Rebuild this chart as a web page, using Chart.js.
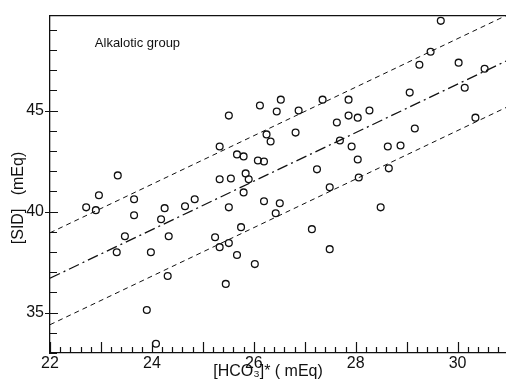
<!DOCTYPE html>
<html>
<head>
<meta charset="utf-8">
<script src="https://cdn.jsdelivr.net/npm/chart.js@4.4.1/dist/chart.umd.min.js"></script>
<style>
  html, body { margin: 0; padding: 0; background: #fff; overflow: hidden; }
  #wrap { width: 506px; height: 386px; }
  canvas { display: block; }
</style>
</head>
<body>
<div id="wrap"><canvas id="sidChart" width="506" height="386"></canvas></div>
<script>
const hco3 = [22.71, 22.96, 22.90, 23.33, 23.65, 23.65, 23.47, 23.31, 23.98, 24.18,
  24.25, 24.33, 24.31, 23.90, 24.08, 24.65, 24.84, 25.24, 25.33, 25.51,
  25.51, 25.67, 25.75, 25.45, 26.02, 25.80, 26.20, 26.51, 26.43, 27.14,
  27.49, 28.49, 25.51, 26.12, 26.53, 26.45, 26.88, 27.35, 27.86, 27.86,
  28.04, 27.63, 26.82, 26.25, 26.33, 25.33, 25.67, 25.80, 26.08, 26.20,
  27.69, 27.92, 28.04, 27.24, 25.33, 25.55, 25.84, 25.90, 27.49, 28.06,
  29.67, 29.47, 29.25, 30.02, 30.53, 30.14, 29.06, 28.27, 30.35, 29.16,
  28.63, 28.88, 28.65];
const sid = [40.21, 40.81, 40.07, 41.79, 40.61, 39.82, 38.78, 37.99, 37.99, 39.62,
  40.17, 38.78, 36.81, 35.13, 33.46, 40.26, 40.61, 38.73, 38.24, 40.21,
  38.44, 37.85, 39.23, 36.42, 37.40, 40.95, 40.51, 40.41, 39.92, 39.13,
  38.14, 40.21, 44.75, 45.25, 45.54, 44.95, 45.00, 45.54, 45.54, 44.75,
  44.65, 44.41, 43.91, 43.82, 43.47, 43.22, 42.83, 42.73, 42.53, 42.48,
  43.52, 43.22, 42.58, 42.09, 41.60, 41.64, 41.89, 41.60, 41.20, 41.69,
  49.44, 47.91, 47.27, 47.37, 47.07, 46.13, 45.89, 45.00, 44.65, 44.11,
  43.22, 43.27, 42.14];

// regression line and its two limits (end points at x = 22 and right edge)
const lineX = [22, 30.95];
const fitLine = [36.7, 47.45];
const upperLine = [38.95, 49.7];
const lowerLine = [34.4, 45.15];

const xTicks = [22, 24, 26, 28, 30];
const yTicks = [35, 40, 45];

const ink = '#111';
const font = "'Liberation Sans', Arial, sans-serif";

function pts(xs, ys) {
  return xs.map((x, i) => ({ x: x, y: ys[i] }));
}

// inward ticks, top frame line, axis titles and the group label
const decorations = {
  id: 'decorations',
  afterDraw(chart) {
    const c = chart.ctx;
    const xs = chart.scales.x, ys = chart.scales.y;
    const area = chart.chartArea;
    c.save();
    c.strokeStyle = ink;
    c.lineWidth = 1.3;
    c.beginPath();
    c.moveTo(area.left, area.top);
    c.lineTo(area.right, area.top);
    c.stroke();

    c.lineWidth = 1.2;
    c.beginPath();
    for (let k = 0; k * 0.2 + 22 <= xs.max + 1e-6; k++) {
      const v = 22 + k * 0.2;
      const px = Math.round(xs.getPixelForValue(v)) + 0.5;
      const len = (k % 5 === 0) ? 11 : 6;
      c.moveTo(px, area.bottom);
      c.lineTo(px, area.bottom - len);
    }
    for (let v = 33; v <= 49; v++) {
      const py = Math.round(ys.getPixelForValue(v)) + 0.5;
      if (v % 5 === 0) {
        c.moveTo(area.left - 5, py);
        c.lineTo(area.left + 8, py);
      } else {
        c.moveTo(area.left, py);
        c.lineTo(area.left + 7, py);
      }
    }
    c.stroke();

    c.fillStyle = ink;
    c.font = '13px ' + font;
    c.textAlign = 'left';
    c.textBaseline = 'middle';
    c.fillText('Alkalotic group', xs.getPixelForValue(22.88), ys.getPixelForValue(48.3));

    c.font = '16px ' + font;
    c.textAlign = 'center';
    c.fillText('[HCO\u2083]* ( mEq)', 268, 372);

    c.translate(19, 198);
    c.rotate(-Math.PI / 2);
    c.fillText('[SID]   (mEq)', 0, 0);
    c.restore();
  }
};

const ctx = document.getElementById('sidChart').getContext('2d');
const sidChart = new Chart(ctx, {
  type: 'scatter',
  data: {
    datasets: [
      {
        label: 'patients',
        data: pts(hco3, sid),
        pointStyle: 'circle',
        pointRadius: 3.4,
        borderWidth: 1.3,
        borderColor: ink,
        backgroundColor: 'rgba(255,255,255,0)',
      },
      {
        label: 'fit',
        type: 'line',
        data: pts(lineX, fitLine),
        borderColor: ink,
        borderWidth: 1.3,
        borderDash: [11, 4, 2, 4],
        pointRadius: 0,
        fill: false,
      },
      {
        label: 'upper',
        type: 'line',
        data: pts(lineX, upperLine),
        borderColor: ink,
        borderWidth: 1,
        borderDash: [5, 4],
        pointRadius: 0,
        fill: false,
      },
      {
        label: 'lower',
        type: 'line',
        data: pts(lineX, lowerLine),
        borderColor: ink,
        borderWidth: 1,
        borderDash: [5, 4],
        pointRadius: 0,
        fill: false,
      }
    ]
  },
  options: {
    responsive: false,
    animation: false,
    layout: { autoPadding: false, padding: { top: 14, right: 0, left: 0, bottom: 0 } },
    plugins: {
      legend: { display: false },
      tooltip: { enabled: false },
    },
    scales: {
      x: {
        type: 'linear',
        min: 22,
        max: 30.95,
        afterBuildTicks: s => { s.ticks = xTicks.map(v => ({ value: v })); },
        afterFit: s => { s.height = 33; s.paddingRight = 0; s.paddingLeft = 0; },
        grid: { display: false, drawTicks: false },
        border: { display: true, color: ink, width: 1.3 },
        ticks: { color: ink, padding: 1, maxRotation: 0, font: { family: font, size: 16 } },
      },
      y: {
        type: 'linear',
        min: 33,
        max: 49.7,
        afterBuildTicks: s => { s.ticks = yTicks.map(v => ({ value: v })); },
        afterFit: s => { s.width = 50; },
        grid: { display: false, drawTicks: false },
        border: { display: true, color: ink, width: 1.3 },
        ticks: { color: ink, padding: 6, font: { family: font, size: 16 } },
      }
    }
  },
  plugins: [decorations]
});
</script>
</body>
</html>
